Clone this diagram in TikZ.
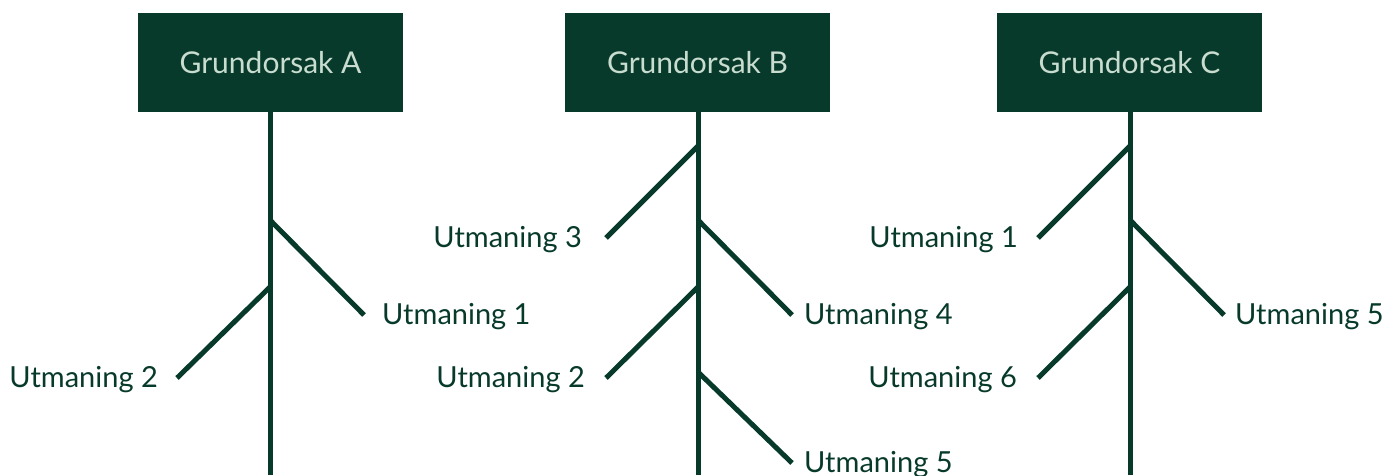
\documentclass[tikz,border=0pt]{standalone}
\usepackage{fontspec}
\setmainfont{Lato}
\usetikzlibrary{positioning}
\definecolor{forest}{HTML}{083A2C}
\definecolor{mint}{HTML}{C8DDD0}

\begin{document}
\begin{tikzpicture}[x=1pt,y=-1pt,
  every node/.style={font=\fontsize{29}{34}\selectfont},
  causebox/.style={fill=forest,text=mint,minimum width=265pt,minimum height=99pt,inner sep=0pt,
    font=\fontsize{30}{34}\selectfont},
  stem/.style={draw=forest,line width=5pt},
  branch/.style={draw=forest,line width=5pt},
  lbl/.style={text=forest,inner sep=0pt,yshift=-2pt}
]
\useasboundingbox (0,0) rectangle (1386,475);

% root causes
\node[causebox] (rootA) at (270.5,62.5) {Grundorsak A};
\node[causebox] (rootB) at (697.5,62.5) {Grundorsak B};
\node[causebox] (rootC) at (1129.5,62.5) {Grundorsak C};

% stems down to the bottom edge
\coordinate (endA) at (270,475);
\coordinate (endB) at (698,475);
\coordinate (endC) at (1130,475);
\draw[stem] (rootA.south -| endA) -- (endA);
\draw[stem] (rootB.south -| endB) -- (endB);
\draw[stem] (rootC.south -| endC) -- (endC);

% column A
\coordinate (jA1) at (270,220); \coordinate (tA1) at (364,315);
\coordinate (jA2) at (270,287); \coordinate (tA2) at (177,378);
\draw[branch] (jA1) -- (tA1);
\draw[branch] (jA2) -- (tA2);
\node[lbl,right=18pt of tA1] (uA1) {Utmaning 1};
\node[lbl,left=19pt of tA2] (uA2) {Utmaning 2};

% column B
\coordinate (jB3) at (698,146); \coordinate (tB3) at (606,238);
\coordinate (jB4) at (698,220); \coordinate (tB4) at (792,315);
\coordinate (jB2) at (698,287); \coordinate (tB2) at (606,378);
\coordinate (jB5) at (698,372); \coordinate (tB5) at (792,463);
\draw[branch] (jB3) -- (tB3);
\draw[branch] (jB4) -- (tB4);
\draw[branch] (jB2) -- (tB2);
\draw[branch] (jB5) -- (tB5);
\node[lbl,left=24pt of tB3] (uB3) {Utmaning 3};
\node[lbl,right=12pt of tB4] (uB4) {Utmaning 4};
\node[lbl,left=21pt of tB2] (uB2) {Utmaning 2};
\node[lbl,right=12pt of tB5] (uB5) {Utmaning 5};

% column C
\coordinate (jC1) at (1130,146); \coordinate (tC1) at (1038,238);
\coordinate (jC5) at (1130,220); \coordinate (tC5) at (1224,315);
\coordinate (jC6) at (1130,287); \coordinate (tC6) at (1038,378);
\draw[branch] (jC1) -- (tC1);
\draw[branch] (jC5) -- (tC5);
\draw[branch] (jC6) -- (tC6);
\node[lbl,left=20pt of tC1] (uC1) {Utmaning 1};
\node[lbl,right=11pt of tC5] (uC5) {Utmaning 5};
\node[lbl,left=21pt of tC6] (uC6) {Utmaning 6};
\end{tikzpicture}
\end{document}
